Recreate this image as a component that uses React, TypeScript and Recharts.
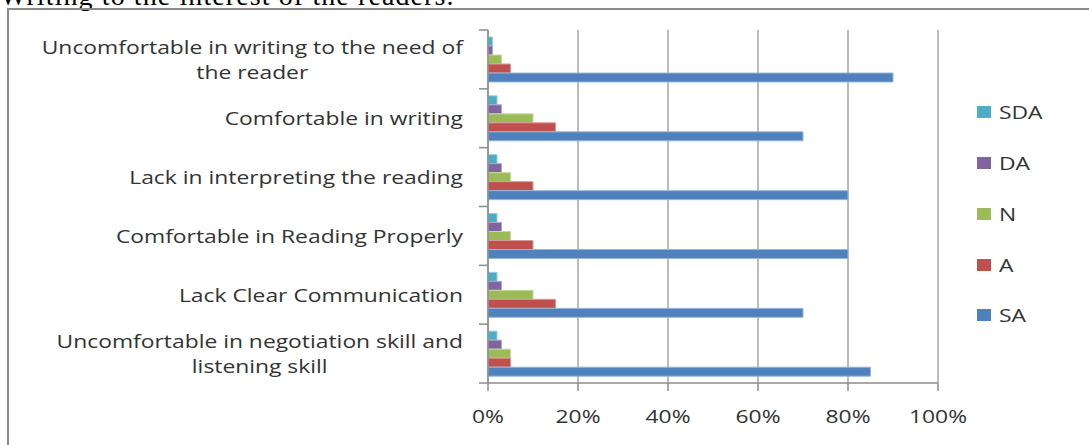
import React from 'react';
import { BarChart, Bar, XAxis, YAxis, CartesianGrid, Legend } from 'recharts';

const categories = [
  'Uncomfortable in writing to the need of\nthe reader',
  'Comfortable in writing',
  'Lack in interpreting the reading',
  'Comfortable in Reading Properly',
  'Lack Clear Communication',
  'Uncomfortable in negotiation skill and\nlistening skill',
];
const sda = [1, 2, 2, 2, 2, 2];
const da = [1, 3, 3, 3, 3, 3];
const n = [3, 10, 5, 5, 10, 5];
const a = [5, 15, 10, 10, 15, 5];
const sa = [90, 70, 80, 80, 70, 85];
const xTicks = [0, 20, 40, 60, 80, 100];

const series = [
  { key: 'SDA', values: sda, color: '#4BACC6', stroke: '#93cfe0' },
  { key: 'DA', values: da, color: '#8064A2', stroke: '#b3a2c9' },
  { key: 'N', values: n, color: '#9BBB59', stroke: '#c5d99c' },
  { key: 'A', values: a, color: '#C0504D', stroke: '#dc9795' },
  { key: 'SA', values: sa, color: '#4F81BD', stroke: '#98b6de' },
];
const seriesOrder = series.map((s) => s.key);

const data = categories.map((name, i) => {
  const row: Record<string, any> = { name };
  series.forEach((s) => (row[s.key] = s.values[i]));
  return row;
});

const FONT = '"Open Sans", "DejaVu Sans", sans-serif';
const FONT_SIZE = 18;
const SCALE_X = 1.27;
const TEXT_COLOR = '#333333';
const AXIS_COLOR = '#8c8c8c';

const PLOT_TOP = 30;
const PLOT_BOTTOM = 383;
const BAND = (PLOT_BOTTOM - PLOT_TOP) / categories.length;
const Y_TICK_SIZE = 6;
const Y_TICK_MARGIN = 2;

let ctx: CanvasRenderingContext2D | null = null;
function measure(text: string): number {
  if (!ctx) {
    const c = document.createElement('canvas');
    ctx = c.getContext('2d');
  }
  if (!ctx) return text.length * 11;
  ctx.font = `${FONT_SIZE}px "Open Sans"`;
  return ctx.measureText(text).width * SCALE_X;
}

const WideText = ({ x, y, children }: any) => (
  <text
    transform={`translate(${x},${y}) scale(${SCALE_X},1)`}
    x={0}
    y={0}
    textAnchor="middle"
    dominantBaseline="central"
    fontFamily={FONT}
    fontSize={FONT_SIZE}
    fill={TEXT_COLOR}
  >
    {children}
  </text>
);

const CategoryTick = (props: any) => {
  const { x, y, payload, index } = props;
  const axisX = x + Y_TICK_SIZE + Y_TICK_MARGIN;
  const lines: string[] = String(payload.value).split('\n');
  const right = axisX - 25;
  const blockW = Math.max(...lines.map(measure));
  const cx = right - blockW / 2;
  const lh = 25;
  const startY = y - ((lines.length - 1) * lh) / 2;
  return (
    <g>
      <line x1={axisX - 9} x2={axisX} y1={y - BAND / 2} y2={y - BAND / 2} stroke={AXIS_COLOR} strokeWidth={1.5} />
      {index === categories.length - 1 && (
        <line x1={axisX - 9} x2={axisX} y1={y + BAND / 2} y2={y + BAND / 2} stroke={AXIS_COLOR} strokeWidth={1.5} />
      )}
      {lines.map((l, i) => (
        <WideText key={i} x={cx} y={startY + i * lh}>
          {l}
        </WideText>
      ))}
    </g>
  );
};

const XTick = (props: any) => {
  const { x, y, payload } = props;
  return <WideText x={x} y={y + 23}>{`${payload.value}%`}</WideText>;
};

const LegendContent = (props: any) => {
  const payload = [...(props.payload || [])].sort(
    (p: any, q: any) => seriesOrder.indexOf(p.value) - seriesOrder.indexOf(q.value)
  );
  return (
    <div style={{ fontFamily: FONT, fontSize: FONT_SIZE, color: TEXT_COLOR }}>
      {payload.map((p: any) => (
        <div key={p.value} style={{ height: 50.75, display: 'flex', alignItems: 'center' }}>
          <span
            style={{
              display: 'inline-block',
              width: 14,
              height: 12,
              background: p.color,
              marginRight: 8,
            }}
          />
          <span
            style={{
              display: 'inline-block',
              transform: `scaleX(${SCALE_X})`,
              transformOrigin: 'left center',
            }}
          >
            {p.value}
          </span>
        </div>
      ))}
    </div>
  );
};

export default function App() {
  return (
    <div
      style={{
        position: 'absolute',
        left: 0,
        top: 0,
        width: 1089,
        height: 445,
        overflow: 'hidden',
        background: '#ffffff',
      }}
    >
      <div
        style={{
          position: 'absolute',
          left: 0,
          top: -18,
          fontFamily: '"Liberation Serif", serif',
          fontSize: 28,
          lineHeight: '28px',
          letterSpacing: 1.1,
          whiteSpace: 'nowrap',
          color: '#000',
        }}
      >
        Writing to the interest of the readers.
      </div>
      <div
        style={{
          position: 'absolute',
          left: 7,
          top: 8,
          width: 1200,
          height: 600,
          border: '2px solid #8a8a8a',
          boxSizing: 'border-box',
        }}
      />
      <div style={{ position: 'absolute', left: 0, top: 0 }}>
        <BarChart
          width={1089}
          height={445}
          data={data}
          layout="vertical"
          margin={{ top: PLOT_TOP, right: 151, bottom: 0, left: 0 }}
          barSize={9}
          barGap={0}
        >
          <CartesianGrid horizontal={false} vertical={true} stroke="#a6a6a6" strokeWidth={1.5} />
          <XAxis
            type="number"
            domain={[0, 100]}
            ticks={xTicks}
            height={445 - PLOT_BOTTOM}
            axisLine={{ stroke: AXIS_COLOR, strokeWidth: 1.5 }}
            tickLine={{ stroke: AXIS_COLOR, strokeWidth: 1.5 }}
            tickSize={8}
            tick={<XTick />}
            interval={0}
          />
          <YAxis
            type="category"
            dataKey="name"
            width={488}
            axisLine={{ stroke: AXIS_COLOR, strokeWidth: 1.5 }}
            tickLine={false}
            tickSize={Y_TICK_SIZE}
            tickMargin={Y_TICK_MARGIN}
            tick={<CategoryTick />}
            interval={0}
          />
          <Legend
            layout="vertical"
            align="center"
            verticalAlign="middle"
            content={<LegendContent />}
            wrapperStyle={{ position: 'absolute', left: 977, top: 87, width: 110 }}
          />
          {series.map((s) => (
            <Bar
              key={s.key}
              dataKey={s.key}
              name={s.key}
              fill={s.color}
              stroke={s.stroke}
              strokeWidth={1}
              isAnimationActive={false}
            />
          ))}
        </BarChart>
      </div>
    </div>
  );
}
